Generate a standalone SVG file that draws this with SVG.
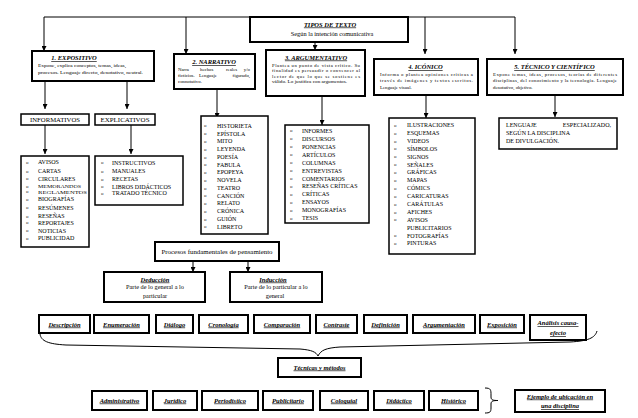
<svg xmlns="http://www.w3.org/2000/svg" width="638" height="418" viewBox="0 0 638 418">
<defs>
<style>
.box{fill:#fff;stroke:#000;stroke-width:2}
.lbox{fill:#fff;stroke:#000;stroke-width:1.5}
.ttl{font-family:"Liberation Serif",serif;font-weight:bold;font-style:italic;text-decoration:underline;font-size:6.5px;text-anchor:middle;fill:#000}
.body{font-family:"Liberation Serif",serif;font-size:4.8px;fill:#000}
.txt{font-family:"Liberation Serif",serif;font-size:6.3px;fill:#000}
.li{font-family:"Liberation Serif",serif;font-size:6px;fill:#000}
.sm{font-family:"Liberation Serif",serif;font-size:4.3px;fill:#000}
.bu{font-family:"Liberation Serif",serif;font-size:5px;fill:#000}
.c{text-anchor:middle}
.e{text-anchor:end}
.conn{fill:none;stroke:#000;stroke-width:1}
</style>
<marker id="ah" markerUnits="userSpaceOnUse" markerWidth="5" markerHeight="5" refX="5" refY="2.5" orient="auto">
<path d="M0,0 L5,2.5 L0,5 z" fill="#000"/>
</marker>
</defs>
<rect width="638" height="418" fill="#fff"/>

<g id="connectors">
<path class="conn" d="M44,17 H515"/>
<path class="conn" d="M44,17 V51" marker-end="url(#ah)"/>
<path class="conn" d="M186,17 V54" marker-end="url(#ah)"/>
<path class="conn" d="M315,42 V50" marker-end="url(#ah)"/>
<path class="conn" d="M425,17 V54" marker-end="url(#ah)"/>
<path class="conn" d="M515,17 V54" marker-end="url(#ah)"/>
<path class="conn" d="M45,81 V109" marker-end="url(#ah)"/>
<path class="conn" d="M127,81 V109" marker-end="url(#ah)"/>
<path class="conn" d="M45,125 V154" marker-end="url(#ah)"/>
<path class="conn" d="M131,125 V154" marker-end="url(#ah)"/>
<path class="conn" d="M217,89 V118" marker-end="url(#ah)"/>
<path class="conn" d="M322,96 V125" marker-end="url(#ah)"/>
<path class="conn" d="M426,95 V118" marker-end="url(#ah)"/>
<path class="conn" d="M555,95 V117" marker-end="url(#ah)"/>
<path class="conn" d="M193,261 V272" marker-end="url(#ah)"/>
<path class="conn" d="M248,261 V272" marker-end="url(#ah)"/>
<path class="conn" d="M40,334 C41,341 48,344 66,345 L300,349 C312,350 316,352 318,356 C321,350 326,348 340,347 L570,342 C588,341 595,338 597,331"/>
<path class="conn" d="M485,388 C491,388 491,390 491,395 L491,397 C491,400 493,400.5 498,400.5 C493,400.5 491,401 491,404 L491,408 C491,412 490,413 485,413"/>
</g>

<g id="tipos">
<rect class="box" x="250" y="17" width="158" height="25"/>
<text class="ttl" x="330" y="26.5">TIPOS DE TEXTO</text>
<text class="txt c" x="332" y="35.5">Según la intención comunicativa</text>
</g>

<g id="expositivo">
<rect class="box" x="32" y="51" width="122" height="30"/>
<text class="ttl" x="74" y="60">1. EXPOSITIVO</text>
<text class="body" x="38" y="67" textLength="88" lengthAdjust="spacingAndGlyphs">Expone, explica conceptos, temas, ideas,</text>
<text class="body" x="38" y="74" textLength="105" lengthAdjust="spacingAndGlyphs">procesos. Lenguaje directo, denotativo, neutral.</text>
</g>

<g id="narrativo">
<rect class="box" x="174" y="54" width="81" height="35"/>
<text class="ttl" x="214" y="64">2. NARRATIVO</text>
<text class="body" x="178" y="70.5">Narra</text>
<text class="body" x="200" y="70.5">hechos</text>
<text class="body" x="226" y="70.5">reales</text>
<text class="body e" x="250" y="70.5">y/o</text>
<text class="body" x="178" y="76.5">ficticios.</text>
<text class="body" x="199" y="76.5">Lenguaje</text>
<text class="body e" x="250" y="76.5">figurado,</text>
<text class="body" x="178" y="82.5">connotativo.</text>
</g>

<g id="argumentativo">
<rect class="box" x="266" y="50" width="99" height="46"/>
<text class="ttl" x="316" y="59.5">3. ARGUMENTATIVO</text>
<text class="body" x="272" y="67" textLength="88" lengthAdjust="spacing">Plantea un punto de vista crítico. Su</text>
<text class="body" x="272" y="72.3" textLength="88" lengthAdjust="spacing">finalidad es persuadir o convencer al</text>
<text class="body" x="272" y="77.6" textLength="88" lengthAdjust="spacing">lector de que lo que se sostiene es</text>
<text class="body" x="272" y="83" textLength="75" lengthAdjust="spacingAndGlyphs">válido. Lo justifica con argumentos.</text>
</g>

<g id="iconico">
<rect class="box" x="374" y="59" width="104" height="36"/>
<text class="ttl" x="425.5" y="69">4. ICÓNICO</text>
<text class="body" x="380" y="75.5" textLength="93" lengthAdjust="spacing">Informa o plantea opiniones críticas a</text>
<text class="body" x="380" y="82" textLength="93" lengthAdjust="spacing">través de imágenes y textos escritos.</text>
<text class="body" x="380" y="88.5">Lenguaje visual.</text>
</g>

<g id="tecnico">
<rect class="box" x="487" y="59" width="136" height="36"/>
<text class="ttl" x="554.5" y="69">5. TÉCNICO Y CIENTÍFICO</text>
<text class="body" x="493" y="75.5" textLength="124" lengthAdjust="spacing">Expone temas, ideas, procesos, teorías de diferentes</text>
<text class="body" x="493" y="82" textLength="124" lengthAdjust="spacing">disciplinas, del conocimiento y la tecnología. Lenguaje</text>
<text class="body" x="493" y="88.5">denotativo, objetivo.</text>
</g>

<g id="informativos">
<rect class="lbox" x="21" y="114" width="68" height="11"/>
<text class="li c" x="55" y="122" textLength="50" lengthAdjust="spacingAndGlyphs">INFORMATIVOS</text>
</g>

<g id="explicativos">
<rect class="lbox" x="95" y="114" width="60" height="11"/>
<text class="li c" x="125" y="122" textLength="49" lengthAdjust="spacingAndGlyphs">EXPLICATIVOS</text>
</g>

<g id="lista-informativos">
<rect class="lbox" x="21" y="156" width="68" height="91"/>
<text class="bu" x="26" y="164">o</text><text class="li" x="38" y="164.3">AVISOS</text>
<text class="bu" x="26" y="172.7">o</text><text class="li" x="38" y="173">CARTAS</text>
<text class="bu" x="26" y="180.4">o</text><text class="li" x="38" y="180.7">CIRCULARES</text>
<text class="bu" x="26" y="187.7">o</text><text class="sm" x="38" y="188" textLength="43" lengthAdjust="spacingAndGlyphs">MEMORANDOS</text>
<text class="bu" x="26" y="193.2">o</text><text class="sm" x="38" y="193.5" textLength="49" lengthAdjust="spacingAndGlyphs">REGLAMENTOS</text>
<text class="bu" x="26" y="201">o</text><text class="li" x="38" y="201.3">BIOGRAFÍAS</text>
<text class="bu" x="26" y="209.4">o</text><text class="li" x="38" y="209.7">RESÚMENES</text>
<text class="bu" x="26" y="217.7">o</text><text class="li" x="38" y="218">RESEÑAS</text>
<text class="bu" x="26" y="224.4">o</text><text class="li" x="38" y="224.7">REPORTAJES</text>
<text class="bu" x="26" y="232.4">o</text><text class="li" x="38" y="232.7">NOTICIAS</text>
<text class="bu" x="26" y="240">o</text><text class="li" x="38" y="240.3">PUBLICIDAD</text>
</g>

<g id="lista-explicativos">
<rect class="lbox" x="95" y="156" width="88" height="49"/>
<text class="bu" x="101" y="164.4">o</text><text class="li" x="112" y="164.7">INSTRUCTIVOS</text>
<text class="bu" x="101" y="172.7">o</text><text class="li" x="112" y="173">MANUALES</text>
<text class="bu" x="101" y="180.7">o</text><text class="li" x="112" y="181">RECETAS</text>
<text class="bu" x="101" y="188.4">o</text><text class="li" x="112" y="188.7">LIBROS DIDÁCTICOS</text>
<text class="bu" x="101" y="195">o</text><text class="li" x="112" y="195.3">TRATADO TÉCNICO</text>
</g>

<g id="lista-narrativo">
<rect class="lbox" x="201" y="116" width="67" height="118"/>
<text class="bu" x="204" y="127.4">o</text><text class="li" x="217" y="127.7">HISTORIETA</text>
<text class="bu" x="204" y="135.2">o</text><text class="li" x="217" y="135.5">EPÍSTOLA</text>
<text class="bu" x="204" y="142.9">o</text><text class="li" x="217" y="143.2">MITO</text>
<text class="bu" x="204" y="150.7">o</text><text class="li" x="217" y="151">LEYENDA</text>
<text class="bu" x="204" y="158.5">o</text><text class="li" x="217" y="158.8">POESÍA</text>
<text class="bu" x="204" y="166.3">o</text><text class="li" x="217" y="166.6">FABULA</text>
<text class="bu" x="204" y="174">o</text><text class="li" x="217" y="174.3">EPOPEYA</text>
<text class="bu" x="204" y="181.8">o</text><text class="li" x="217" y="182.1">NOVELA</text>
<text class="bu" x="204" y="189.6">o</text><text class="li" x="217" y="189.9">TEATRO</text>
<text class="bu" x="204" y="197.3">o</text><text class="li" x="217" y="197.6">CANCIÓN</text>
<text class="bu" x="204" y="205.1">o</text><text class="li" x="217" y="205.4">RELATO</text>
<text class="bu" x="204" y="212.9">o</text><text class="li" x="217" y="213.2">CRÓNICA</text>
<text class="bu" x="204" y="220.7">o</text><text class="li" x="217" y="221">GUIÓN</text>
<text class="bu" x="204" y="228.4">o</text><text class="li" x="217" y="228.7">LIBRETO</text>
</g>

<g id="lista-argumentativo">
<rect class="lbox" x="285" y="125" width="84" height="98"/>
<text class="bu" x="290" y="132.4">o</text><text class="li" x="302" y="132.7">INFORMES</text>
<text class="bu" x="290" y="140.4">o</text><text class="li" x="302" y="140.7">DISCURSOS</text>
<text class="bu" x="290" y="148.3">o</text><text class="li" x="302" y="148.6">PONENCIAS</text>
<text class="bu" x="290" y="156.3">o</text><text class="li" x="302" y="156.6">ARTÍCULOS</text>
<text class="bu" x="290" y="164.2">o</text><text class="li" x="302" y="164.5">COLUMNAS</text>
<text class="bu" x="290" y="172.2">o</text><text class="li" x="302" y="172.5">ENTREVISTAS</text>
<text class="bu" x="290" y="180.2">o</text><text class="li" x="302" y="180.5">COMENTARIOS</text>
<text class="bu" x="290" y="188.1">o</text><text class="li" x="302" y="188.4">RESEÑAS CRÍTICAS</text>
<text class="bu" x="290" y="196.1">o</text><text class="li" x="302" y="196.4">CRÍTICAS</text>
<text class="bu" x="290" y="204">o</text><text class="li" x="302" y="204.3">ENSAYOS</text>
<text class="bu" x="290" y="212">o</text><text class="li" x="302" y="212.3">MONOGRAFÍAS</text>
<text class="bu" x="290" y="220">o</text><text class="li" x="302" y="220.3">TESIS</text>
</g>

<g id="lista-iconico">
<rect class="lbox" x="389" y="118" width="86" height="136"/>
<text class="bu" x="394" y="126.7">o</text><text class="li" x="407" y="127">ILUSTRACIONES</text>
<text class="bu" x="394" y="134.6">o</text><text class="li" x="407" y="134.9">ESQUEMAS</text>
<text class="bu" x="394" y="142.5">o</text><text class="li" x="407" y="142.8">VIDEOS</text>
<text class="bu" x="394" y="150.4">o</text><text class="li" x="407" y="150.7">SÍMBOLOS</text>
<text class="bu" x="394" y="158.3">o</text><text class="li" x="407" y="158.6">SIGNOS</text>
<text class="bu" x="394" y="166.2">o</text><text class="li" x="407" y="166.5">SEÑALES</text>
<text class="bu" x="394" y="174">o</text><text class="li" x="407" y="174.3">GRÁFICAS</text>
<text class="bu" x="394" y="181.9">o</text><text class="li" x="407" y="182.2">MAPAS</text>
<text class="bu" x="394" y="189.8">o</text><text class="li" x="407" y="190.1">CÓMICS</text>
<text class="bu" x="394" y="197.7">o</text><text class="li" x="407" y="198">CARICATURAS</text>
<text class="bu" x="394" y="205.6">o</text><text class="li" x="407" y="205.9">CARÁTULAS</text>
<text class="bu" x="394" y="213.5">o</text><text class="li" x="407" y="213.8">AFICHES</text>
<text class="bu" x="394" y="221.4">o</text><text class="li" x="407" y="221.7">AVISOS</text>
<text class="li" x="407" y="229.6">PUBLICITARIOS</text>
<text class="bu" x="394" y="237.2">o</text><text class="li" x="407" y="237.5">FOTOGRAFÍAS</text>
<text class="bu" x="394" y="245.1">o</text><text class="li" x="407" y="245.4">PINTURAS</text>
</g>

<g id="lenguaje-especializado">
<rect class="lbox" x="499" y="118" width="118" height="31"/>
<text class="li" x="506" y="127">LENGUAJE</text>
<text class="li e" x="611" y="127">ESPECIALIZADO,</text>
<text class="li" x="506" y="135">SEGÚN LA DISCIPLINA</text>
<text class="li" x="506" y="142.5">DE DIVULGACIÓN.</text>
</g>

<g id="procesos">
<rect class="box" x="155" y="242" width="124" height="19"/>
<text class="txt c" x="217" y="253.5" textLength="111" lengthAdjust="spacingAndGlyphs">Procesos fundamentales de pensamiento</text>
</g>

<g id="deduccion">
<rect class="box" x="104" y="272" width="101" height="30"/>
<text class="ttl" x="155" y="281.5">Deducción</text>
<text class="txt c" x="155" y="289">Parte de lo general a lo</text>
<text class="txt c" x="155" y="298">particular</text>
</g>

<g id="induccion">
<rect class="box" x="230" y="272" width="92" height="30"/>
<text class="ttl" x="273" y="281.5">Inducción</text>
<text class="txt c" x="276" y="289">Parte de lo particular a lo</text>
<text class="txt c" x="275" y="298">general</text>
</g>

<g id="descripcion"><rect class="box" x="39" y="315" width="51" height="18"/><text class="ttl" x="64.5" y="326.5">Descripción</text></g>
<g id="enumeracion"><rect class="box" x="94" y="315" width="55" height="18"/><text class="ttl" x="121.5" y="326.5">Enumeración</text></g>
<g id="dialogo"><rect class="box" x="156" y="315" width="37" height="18"/><text class="ttl" x="174.5" y="326.5">Diálogo</text></g>
<g id="cronologia"><rect class="box" x="199" y="315" width="49" height="18"/><text class="ttl" x="223.5" y="326.5">Cronología</text></g>
<g id="comparacion"><rect class="box" x="254" y="315" width="56" height="18"/><text class="ttl" x="282" y="326.5">Comparación</text></g>
<g id="contraste"><rect class="box" x="316" y="315" width="41" height="18"/><text class="ttl" x="336.5" y="326.5">Contraste</text></g>
<g id="definicion"><rect class="box" x="364" y="315" width="43" height="18"/><text class="ttl" x="385.5" y="326.5">Definición</text></g>
<g id="argumentacion"><rect class="box" x="413" y="315" width="62" height="18"/><text class="ttl" x="444" y="326.5">Argumentación</text></g>
<g id="exposicion"><rect class="box" x="480" y="315" width="44" height="18"/><text class="ttl" x="502" y="326.5">Exposición</text></g>
<g id="analisis"><rect class="box" x="530" y="315" width="56" height="25"/><text class="ttl" x="558" y="325">Análisis causa-</text><text class="ttl" x="558" y="335">efecto</text></g>

<g id="tecnicas">
<rect class="box" x="278" y="358" width="83" height="19"/>
<text class="ttl" x="319.5" y="369.5">Técnicas y métodos</text>
</g>

<g id="administrativo"><rect class="box" x="92" y="391" width="55" height="19"/><text class="ttl" x="119.5" y="402.5">Administrativo</text></g>
<g id="juridico"><rect class="box" x="153" y="391" width="44" height="19"/><text class="ttl" x="175" y="402.5">Jurídico</text></g>
<g id="periodistico"><rect class="box" x="202" y="391" width="56" height="19"/><text class="ttl" x="230" y="402.5">Periodístico</text></g>
<g id="publicitario"><rect class="box" x="263" y="391" width="50" height="19"/><text class="ttl" x="288" y="402.5">Publicitario</text></g>
<g id="coloquial"><rect class="box" x="320" y="391" width="48" height="19"/><text class="ttl" x="344" y="402.5">Coloquial</text></g>
<g id="didactico"><rect class="box" x="374" y="391" width="50" height="19"/><text class="ttl" x="399" y="402.5">Didáctico</text></g>
<g id="historico"><rect class="box" x="429" y="391" width="49" height="19"/><text class="ttl" x="453.5" y="402.5">Histórico</text></g>

<g id="ejemplo">
<rect class="box" x="515" y="390" width="90" height="22"/>
<text class="ttl" x="560" y="398.5">Ejemplo de ubicación en</text>
<text class="ttl" x="560" y="408">una disciplina</text>
</g>
</svg>
